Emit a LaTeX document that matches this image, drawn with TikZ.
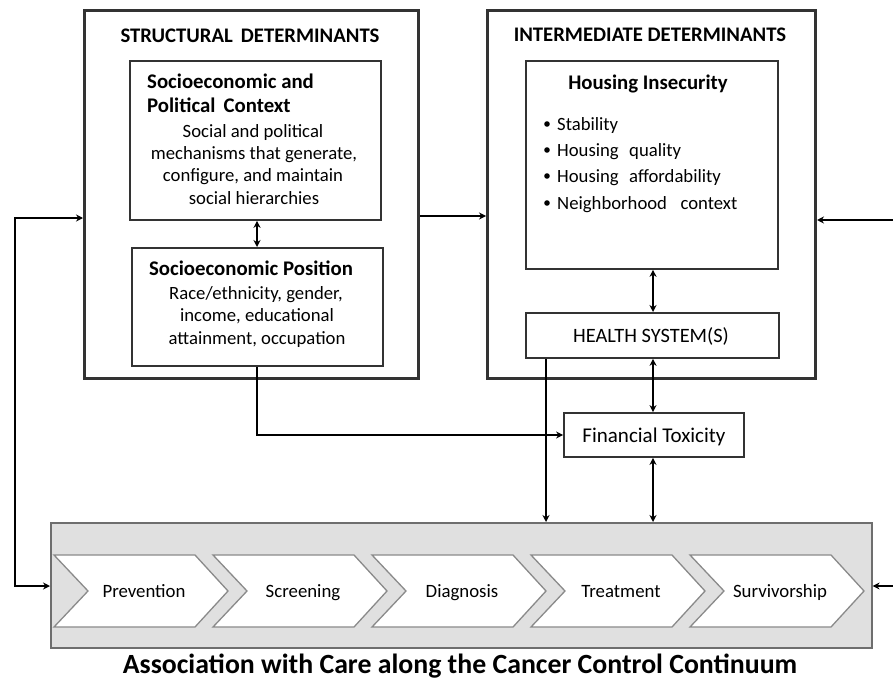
\documentclass[tikz,border=0pt]{standalone}
\usepackage{fontspec}
\setmainfont{Carlito}
\usetikzlibrary{arrows.meta,calc}
\definecolor{boxline}{HTML}{333333}
\definecolor{panelfill}{HTML}{E0E0E0}
\definecolor{panelline}{HTML}{6E6E6E}
\definecolor{chevline}{HTML}{8A8A8A}
\begin{document}
\begin{tikzpicture}[x=1pt,y=-1pt,
  outerbox/.style={draw=boxline,line width=3pt,minimum width=#1,inner sep=0pt,anchor=north west},
  innerbox/.style={draw=boxline,line width=1.8pt,inner sep=0pt,anchor=north west},
  conn/.style={line width=2.6pt,-{Stealth[length=7pt,width=7pt]}},
  dconn/.style={line width=2.6pt,{Stealth[length=7pt,width=7pt]}-{Stealth[length=7pt,width=7pt]}},
  txt/.style={inner sep=0pt,anchor=base},
  title/.style={txt,font=\fontsize{20.7}{24}\selectfont\bfseries},
  head/.style={txt,font=\fontsize{20.8}{24}\selectfont\bfseries},
  body/.style={txt,font=\fontsize{18.7}{22}\selectfont},
  chevlabel/.style={txt,font=\fontsize{18.8}{22}\selectfont},
  chev/.style={draw=chevline,fill=white,line width=1.3pt,line join=miter}]
\useasboundingbox (0,0) rectangle (893,679);

% outer boxes
\node[outerbox=334pt,minimum height=368pt] (struct) at (83,9) {};
\node[outerbox=328pt,minimum height=368pt] (inter) at (486,9) {};
\node[title] (structT) at (250,43) {STRUCTURAL\, DETERMINANTS};
\node[title] (interT) at (650,42) {INTERMEDIATE DETERMINANTS};

% structural inner boxes
\node[innerbox,minimum width=251pt,minimum height=159pt] (ctx) at (129,60) {};
\node[head,anchor=base west] (ctxH1) at (147,89) {Socioeconomic and};
\node[head,anchor=base west] (ctxH2) at (147,113) {Political\, Context};
\node[body] (ctxB1) at (253,138) {Social and political};
\node[body] (ctxB2) at (254,160) {mechanisms that generate,};
\node[body] (ctxB3) at (253,182) {configure, and maintain};
\node[body] (ctxB4) at (254,204) {social hierarchies};

\node[innerbox,minimum width=251pt,minimum height=118pt] (pos) at (131,247) {};
\node[head] (posH) at (251,275) {Socioeconomic Position};
\node[body] (posB1) at (256,299) {Race/ethnicity, gender,};
\node[body] (posB2) at (257,321) {income, educational};
\node[body] (posB3) at (257,344) {attainment, occupation};

% intermediate inner boxes
\node[innerbox,minimum width=252pt,minimum height=208pt] (housing) at (525,60) {};
\node[head] (housH) at (648,90) {Housing Insecurity};
\foreach \y/\t [count=\i] in {124/Stability,150/Housing\,\, quality,176/Housing\,\, affordability,203/Neighborhood\,\,\, context}{
  \fill (547,\y) circle (2.8pt);
  \node[body,anchor=base west] (bul\i) at (557,\y+6.5) {\t};
}
\node[innerbox,minimum width=253pt,minimum height=45pt] (health) at (525,312) {};
\node[body,font=\fontsize{20.4}{24}\selectfont] (healthT) at (651,342) {HEALTH SYSTEM(S)};

% financial toxicity
\node[draw=boxline,line width=1.8pt,minimum width=180pt,minimum height=44pt,inner sep=0pt] (fin) at (654,435) {};
\node[body,font=\fontsize{21}{24}\selectfont] (finT) at (654,442) {Financial Toxicity};

% continuum panel
\node[draw=panelline,fill=panelfill,line width=1.6pt,minimum width=821pt,minimum height=125pt,inner sep=0pt,anchor=north west] (gray) at (50,522) {};
\foreach \t [count=\i] in {Prevention,Screening,Diagnosis,Treatment,Survivorship}{
  \pgfmathsetmacro{\L}{54+159*(\i-1)}
  \draw[chev] (\L,555) -- (\L+141,555) -- (\L+174,591) -- (\L+141,627) -- (\L,627) -- (\L+34,591) -- cycle;
  \node[chevlabel] (c\i) at (\L+90,597) {\t};
}
\node[txt,font=\fontsize{27.8}{32}\selectfont\bfseries] (caption) at (460,673) {Association with Care along the Cancer Control Continuum};

% helper coordinates
\coordinate (lvl) at (0,216);
\coordinate (lxtop) at (15,218);
\coordinate (lxbot) at (15,586);
\coordinate (rtop) at (893,220);
\coordinate (rbot) at (893,586);
\coordinate (hx) at (546,0);
\coordinate (dx) at (653,0);
\coordinate (mx) at (257,0);

% connectors
\draw[dconn] (ctx.south -| mx) -- (pos.north -| mx);
\draw[conn] (pos.south -| mx) |- (fin.west);
\draw[conn] (struct.east |- lvl) -- (inter.west |- lvl);
\draw[dconn] (struct.west |- lxtop) -- (lxtop) -- (lxbot) -- (gray.west |- lxbot);
\draw[conn] (rtop) -- (inter.east |- rtop);
\draw[conn] (rbot) -- (gray.east |- rbot);
\draw[dconn] (housing.south -| dx) -- (health.north -| dx);
\draw[dconn] (health.south -| dx) -- (fin.north -| dx);
\draw[dconn] (fin.south -| dx) -- (gray.north -| dx);
\draw[conn] (health.south -| hx) -- (gray.north -| hx);
\end{tikzpicture}
\end{document}
